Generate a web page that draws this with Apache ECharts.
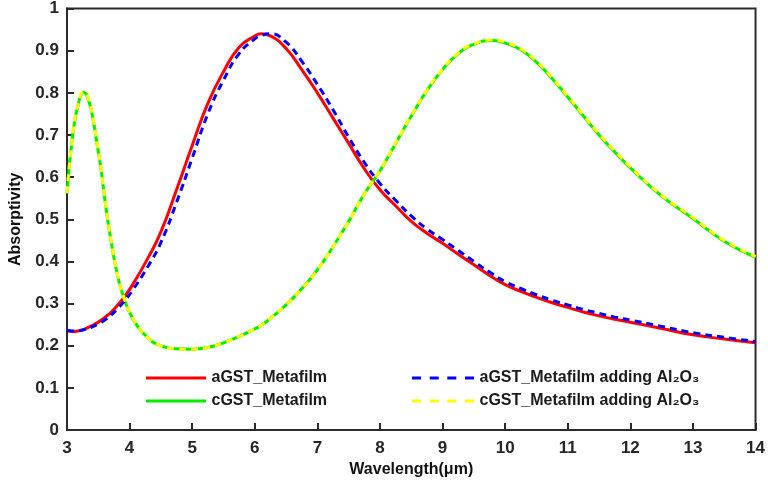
<!DOCTYPE html>
<html>
<head>
<meta charset="utf-8">
<script src="https://cdn.jsdelivr.net/npm/echarts@6/dist/echarts.min.js"></script>
<style>html,body{margin:0;padding:0;background:#fff}#chart{width:768px;height:483px}</style>
</head>
<body>
<div id="chart"></div>
<script>
var wavelength = [3, 3.1, 3.2, 3.27, 3.35, 3.42, 3.5, 3.55, 3.62, 3.7, 3.8, 3.9, 4.05, 4.3, 4.5, 4.75, 5, 5.25, 5.5, 5.75, 6, 6.1, 6.25, 6.5, 6.75, 7, 7.25, 7.5, 7.75, 8, 8.25, 8.5, 8.75, 9, 9.25, 9.5, 9.8, 10, 10.25, 10.5, 10.75, 11, 11.25, 11.5, 11.75, 12, 12.5, 13, 13.5, 14];
var aGST = [0.235, 0.234, 0.236, 0.239, 0.244, 0.249, 0.256, 0.261, 0.269, 0.279, 0.295, 0.313, 0.345, 0.41, 0.47, 0.57, 0.675, 0.775, 0.85, 0.908, 0.935, 0.94, 0.935, 0.905, 0.855, 0.80, 0.74, 0.68, 0.62, 0.57, 0.532, 0.495, 0.467, 0.443, 0.417, 0.392, 0.362, 0.345, 0.329, 0.315, 0.302, 0.291, 0.28, 0.271, 0.263, 0.256, 0.241, 0.226, 0.216, 0.207];
var cGST = [0.561, 0.71, 0.785, 0.801, 0.78, 0.734, 0.66, 0.612, 0.53, 0.452, 0.372, 0.317, 0.265, 0.218, 0.2, 0.193, 0.192, 0.196, 0.207, 0.222, 0.24, 0.248, 0.265, 0.297, 0.335, 0.38, 0.435, 0.495, 0.56, 0.615, 0.68, 0.745, 0.805, 0.855, 0.893, 0.915, 0.924, 0.918, 0.902, 0.873, 0.834, 0.79, 0.745, 0.70, 0.66, 0.622, 0.555, 0.502, 0.448, 0.41];
var aGST_Al2O3 = [0.236, 0.235, 0.236, 0.238, 0.242, 0.246, 0.252, 0.256, 0.263, 0.272, 0.287, 0.303, 0.332, 0.39, 0.445, 0.54, 0.645, 0.75, 0.83, 0.893, 0.928, 0.936, 0.94, 0.92, 0.875, 0.82, 0.76, 0.695, 0.635, 0.585, 0.545, 0.508, 0.477, 0.452, 0.426, 0.40, 0.37, 0.352, 0.336, 0.321, 0.308, 0.297, 0.286, 0.277, 0.268, 0.261, 0.246, 0.231, 0.22, 0.21];
var cGST_Al2O3 = [0.562, 0.71, 0.786, 0.802, 0.781, 0.735, 0.661, 0.613, 0.531, 0.453, 0.373, 0.318, 0.266, 0.218, 0.2, 0.193, 0.192, 0.196, 0.207, 0.222, 0.24, 0.248, 0.265, 0.297, 0.335, 0.38, 0.435, 0.495, 0.56, 0.616, 0.681, 0.746, 0.806, 0.856, 0.894, 0.916, 0.925, 0.92, 0.904, 0.875, 0.836, 0.792, 0.747, 0.702, 0.662, 0.624, 0.557, 0.504, 0.45, 0.412];
var yTicks = [0, 0.1, 0.2, 0.3, 0.4, 0.5, 0.6, 0.7, 0.8, 0.9, 1];
var names = ['aGST_Metafilm', 'cGST_Metafilm', 'aGST_Metafilm adding Al\u2082O\u2083', 'cGST_Metafilm adding Al\u2082O\u2083'];

function pairs(ys) { return wavelength.map(function (x, i) { return [x, ys[i]]; }); }

var chart = echarts.init(document.getElementById('chart'), null, {renderer: 'canvas'});
var font = 'Arial, "Liberation Sans", sans-serif';
var axisColor = '#2b2b2b';
var solidIcon = 'path://M0,0H60V3H0Z';
var dashIcon = 'path://M0,0H9V3H0Z M17.7,0H26.7V3H17.7Z M35.3,0H44.3V3H35.3Z M53,0H62V3H53Z';
function mk(name, data, color, dashed) {
  return {
    name: name, type: 'line', data: pairs(data), smooth: 0.5, showSymbol: false, symbol: 'none',
    lineStyle: {color: color, width: 3, type: dashed ? [7, 5] : 'solid'},
    itemStyle: {color: color}, animation: false
  };
}
var legendText = {fontFamily: font, fontWeight: 'bold', fontSize: 16, color: '#1a1a1a'};
chart.setOption({
  backgroundColor: '#fff',
  animation: false,
  grid: {left: 67, right: 11, top: 8, bottom: 52, show: true, borderColor: axisColor, borderWidth: 2, backgroundColor: 'transparent'},
  xAxis: {
    type: 'value', min: 3, max: 14, interval: 1,
    name: 'Wavelength(\u03bcm)', nameLocation: 'middle', nameGap: 31,
    nameTextStyle: {fontFamily: font, fontWeight: 'bold', fontSize: 16, color: '#111'},
    axisLine: {show: true, lineStyle: {color: axisColor, width: 2}},
    axisTick: {show: true, inside: true, length: 7, lineStyle: {color: axisColor, width: 2}},
    axisLabel: {fontFamily: font, fontWeight: 'bold', fontSize: 17, color: '#262626', margin: 10},
    splitLine: {show: false}
  },
  yAxis: {
    type: 'value', min: yTicks[0], max: yTicks[yTicks.length - 1], interval: 0.1,
    name: 'Absorptivity', nameLocation: 'middle', nameGap: 43, nameRotate: 90,
    nameTextStyle: {fontFamily: font, fontWeight: 'bold', fontSize: 16, color: '#111'},
    axisLine: {show: true, lineStyle: {color: axisColor, width: 2}},
    axisTick: {show: true, inside: true, length: 7, lineStyle: {color: axisColor, width: 2}},
    axisLabel: {fontFamily: font, fontWeight: 'bold', fontSize: 17, color: '#262626', margin: 8},
    splitLine: {show: false}
  },
  legend: [
    {orient: 'vertical', left: 141, top: 365, itemWidth: 61, itemHeight: 3, itemGap: 7, textStyle: legendText,
     data: [{name: names[0], icon: solidIcon}, {name: names[1], icon: solidIcon}]},
    {orient: 'vertical', left: 407, top: 365, itemWidth: 63, itemHeight: 3, itemGap: 7, textStyle: legendText,
     data: [{name: names[2], icon: dashIcon}, {name: names[3], icon: dashIcon}]}
  ],
  series: [
    mk(names[0], aGST, '#ff0000', false),
    mk(names[1], cGST, '#00ee00', false),
    mk(names[2], aGST_Al2O3, '#0000ff', true),
    mk(names[3], cGST_Al2O3, '#ffff00', true)
  ]
});
</script>
</body>
</html>
